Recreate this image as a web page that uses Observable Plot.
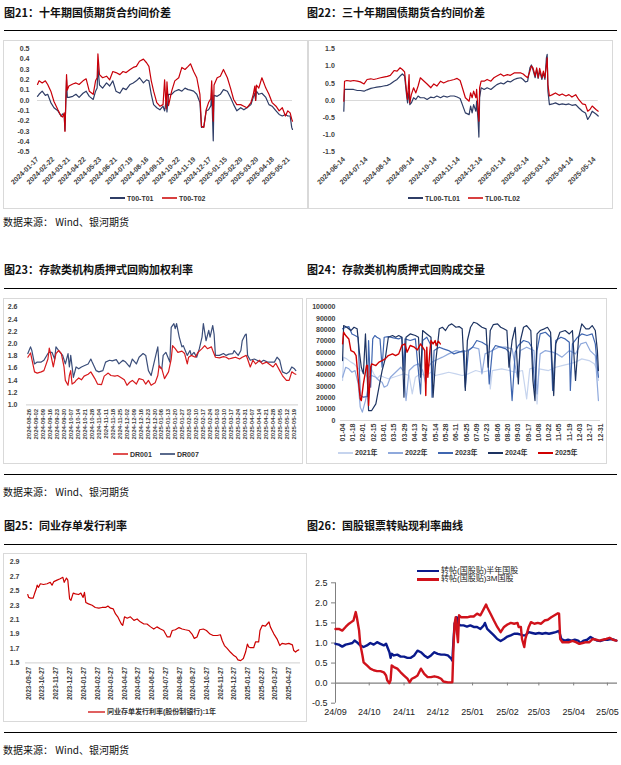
<!DOCTYPE html>
<html lang="zh">
<head>
<meta charset="utf-8">
<script src="https://cdn.jsdelivr.net/npm/d3@7"></script>
<script src="https://cdn.jsdelivr.net/npm/@observablehq/plot@0.6"></script>
<style>
html,body{margin:0;padding:0;background:#fff;}
#page{position:relative;width:621px;height:765px;overflow:hidden;background:#fff;}
.t{position:absolute;font-family:"Noto Sans CJK SC",sans-serif;font-weight:700;font-size:11px;line-height:13px;white-space:nowrap;color:#111;}
.hr{position:absolute;height:1.4px;background:#000;}
.box{position:absolute;border:1px solid #d9d9d9;box-sizing:border-box;}
.src{position:absolute;font-family:"Noto Sans CJK SC",sans-serif;font-size:10px;line-height:12px;color:#111;white-space:nowrap;}
.lg{position:absolute;white-space:nowrap;font-family:"Liberation Sans","Noto Sans CJK SC",sans-serif;font-size:7px;font-weight:700;color:#333;line-height:9px;}
.lg6{position:absolute;white-space:nowrap;font-family:"Liberation Sans","Noto Sans CJK SC",sans-serif;font-size:8px;color:#222;line-height:8px;height:8px;}
.sw{position:absolute;}
</style>
</head>
<body><div id="page"></div>
<script>
// ---------------- DATA ----------------
// Fig 21: T futures spreads (x = trading-day index)
const labels1 = ["2024-01-17","2024-02-22","2024-03-21","2024-04-22","2024-05-23","2024-06-21","2024-07-19","2024-08-16","2024-09-13","2024-10-22","2024-11-19","2024-12-17","2025-01-15","2025-02-20","2025-03-20","2025-04-18","2025-05-21"];
const days1 = [0,2,6,10,13,17,21,26,30,32,34,35,37,38,40,45,49,53,58,62,66,71,74,76,77,79,83,88,92,96,100,105,109,113,118,122,126,130,135,139,142,145,148,152,156,160,162,164,165,167,171,175,180,184,188,192,195,199,203,207,209,212,215,218,221,222,224,225,229,233,237,242,246,250,254,259,263,267,272,275,277,278,279,282,286,291,295,299,304,308,312,316,319,322,324,325];
const t00t01 = [0.04,0.06,0.09,0.05,0.06,-0.02,-0.07,-0.10,-0.15,-0.13,-0.14,-0.29,0.20,0.03,0.03,0.04,0.06,0.03,0.07,0.09,0.04,0.01,0.09,0.12,0.33,0.15,0.12,0.17,0.14,0.19,0.09,0.07,0.12,0.105,0.155,0.17,0.19,0.22,0.17,0.20,0.19,0.06,-0.04,-0.07,-0.09,-0.055,-0.10,0.0,-0.11,0.06,0.06,0.09,0.105,0.09,0.12,0.105,0.10,0.09,0.06,-0.02,-0.26,-0.25,-0.10,-0.09,-0.05,0.10,-0.39,0.05,0.04,0.06,0.105,0.09,0.03,-0.04,-0.10,-0.07,-0.09,-0.07,-0.04,0.03,0.07,0.0,0.09,0.06,0.07,0.03,-0.04,-0.055,-0.10,-0.135,-0.15,-0.135,-0.15,-0.15,-0.26,-0.28];
const t00t02 = [0.155,0.19,0.17,0.19,0.155,0.09,-0.01,-0.09,-0.15,-0.16,-0.12,-0.30,0.25,0.10,0.14,0.16,0.17,0.155,0.19,0.21,0.09,0.06,0.19,0.22,0.45,0.25,0.22,0.235,0.20,0.28,0.27,0.25,0.28,0.27,0.30,0.32,0.33,0.38,0.40,0.365,0.33,0.19,0.09,-0.02,-0.055,-0.04,0.20,-0.08,0.18,-0.05,0.09,0.19,0.22,0.32,0.30,0.33,0.355,0.28,0.22,0.06,-0.25,-0.26,-0.09,-0.02,0.02,0.19,-0.20,0.15,0.22,0.235,0.30,0.22,0.12,0.01,-0.04,-0.04,-0.055,-0.07,-0.02,0.06,0.14,0.0,0.15,0.12,0.22,0.12,0.06,-0.02,-0.055,-0.10,-0.07,-0.15,-0.10,-0.12,-0.18,-0.20];

// Fig 22: TL futures spreads
const labels2 = ["2024-06-14","2024-07-14","2024-08-14","2024-09-14","2024-10-14","2024-11-14","2024-12-14","2025-01-14","2025-02-14","2025-03-14","2025-04-14","2025-05-14"];
const dates2 = ["2024-06-14","2024-06-15","2024-06-18","2024-06-23","2024-06-27","2024-07-02","2024-07-06","2024-07-11","2024-07-15","2024-07-20","2024-07-24","2024-07-28","2024-08-02","2024-08-06","2024-08-11","2024-08-15","2024-08-20","2024-08-24","2024-08-28","2024-08-31","2024-09-03","2024-09-06","2024-09-07","2024-09-09","2024-09-10","2024-09-12","2024-09-15","2024-09-18","2024-09-21","2024-09-24","2024-09-29","2024-10-03","2024-10-08","2024-10-12","2024-10-16","2024-10-21","2024-10-25","2024-10-30","2024-11-03","2024-11-08","2024-11-12","2024-11-16","2024-11-19","2024-11-23","2024-11-28","2024-11-30","2024-12-02","2024-12-04","2024-12-07","2024-12-08","2024-12-10","2024-12-11","2024-12-12","2024-12-14","2024-12-18","2024-12-22","2024-12-27","2024-12-31","2025-01-04","2025-01-09","2025-01-13","2025-01-18","2025-01-22","2025-01-27","2025-01-31","2025-02-05","2025-02-08","2025-02-11","2025-02-14","2025-02-17","2025-02-19","2025-02-21","2025-02-24","2025-02-26","2025-02-28","2025-03-02","2025-03-05","2025-03-07","2025-03-09","2025-03-11","2025-03-12","2025-03-13","2025-03-15","2025-03-19","2025-03-23","2025-03-28","2025-04-01","2025-04-06","2025-04-10","2025-04-14","2025-04-19","2025-04-23","2025-04-28","2025-05-02","2025-05-05","2025-05-08","2025-05-11","2025-05-16","2025-05-19"];
const tl00tl01 = [-0.31,0.32,0.32,0.32,0.32,0.29,0.29,0.27,0.31,0.35,0.37,0.39,0.40,0.42,0.44,0.48,0.56,0.61,0.71,0.77,0.71,0.08,-0.07,0.27,-0.12,-0.07,0.08,0.03,0.13,0.08,0.08,0.03,0.10,0.08,0.13,0.08,0.13,0.10,0.13,0.13,0.10,0.06,-0.12,-0.36,-0.41,-0.16,-0.36,-0.12,-0.31,-0.02,-0.60,-1.06,0.08,0.37,0.32,0.37,0.32,0.39,0.46,0.51,0.48,0.56,0.54,0.61,0.64,0.66,0.61,0.54,0.56,0.95,1.03,0.90,0.66,0.90,0.64,0.85,0.61,0.80,0.61,1.24,1.34,0.27,-0.12,-0.10,-0.07,-0.12,-0.10,-0.12,-0.10,-0.14,-0.12,-0.21,-0.31,-0.36,-0.55,-0.45,-0.31,-0.39,-0.45];
const tl00tl02 = [-0.02,0.56,0.58,0.56,0.58,0.56,0.54,0.48,0.61,0.63,0.61,0.63,0.66,0.68,0.70,0.73,0.87,0.85,0.95,0.90,0.83,0.17,0.03,0.75,-0.07,0.17,0.37,0.22,0.42,0.66,0.56,0.48,0.37,0.48,0.42,0.56,0.51,0.56,0.58,0.61,0.64,0.58,0.37,0.08,-0.02,0.22,0.08,0.27,0.08,0.32,-0.31,-0.60,0.37,0.56,0.56,0.61,0.56,0.66,0.71,0.77,0.71,0.75,0.73,0.80,0.80,0.80,0.77,0.71,0.66,0.85,1.00,0.95,0.71,0.95,0.66,0.93,0.66,0.85,0.66,1.04,1.24,0.46,0.13,0.17,0.22,0.15,0.19,0.13,0.17,0.10,0.17,0.03,-0.10,-0.12,-0.31,-0.26,-0.16,-0.26,-0.31];

// Fig 23: DR001 / DR007 (x = trading-day index)
const labels3 = ["2024-08-26","2024-09-02","2024-09-09","2024-09-16","2024-09-23","2024-09-30","2024-10-07","2024-10-14","2024-10-21","2024-10-28","2024-11-04","2024-11-11","2024-11-18","2024-11-25","2024-12-02","2024-12-09","2024-12-16","2024-12-23","2024-12-30","2025-01-06","2025-01-13","2025-01-20","2025-01-27","2025-02-03","2025-02-10","2025-02-17","2025-02-24","2025-03-03","2025-03-10","2025-03-17","2025-03-24","2025-03-31","2025-04-07","2025-04-14","2025-04-21","2025-04-28","2025-05-05","2025-05-12","2025-05-19"];
const dr001 = [[0,1.78],[2,1.85],[3,1.75],[5,1.54],[7,1.52],[10,1.54],[12,1.56],[15,1.75],[16,1.93],[17,1.84],[19,1.62],[21,1.84],[23,1.89],[25,1.84],[27,1.62],[28,1.40],[30,1.32],[31,1.48],[32,1.56],[33,1.34],[35,1.37],[36,1.40],[38,1.44],[40,1.41],[42,1.47],[45,1.50],[47,1.54],[50,1.43],[52,1.34],[55,1.33],[57,1.47],[60,1.52],[62,1.48],[65,1.47],[67,1.48],[70,1.44],[72,1.41],[74,1.32],[76,1.37],[78,1.40],[81,1.34],[83,1.43],[86,1.41],[88,1.34],[90,1.40],[92,1.32],[95,1.36],[97,1.48],[98,1.64],[100,1.59],[102,1.43],[105,1.54],[107,1.75],[108,1.97],[110,1.92],[112,1.86],[115,1.88],[117,1.84],[119,1.67],[120,1.78],[122,1.81],[125,1.78],[127,1.86],[130,1.92],[132,1.97],[134,1.92],[137,1.95],[138,1.89],[140,1.78],[143,1.77],[146,1.79],[148,1.78],[150,1.75],[153,1.77],[155,1.78],[158,1.75],[160,1.78],[163,1.81],[164,1.75],[166,1.62],[168,1.73],[170,1.67],[173,1.73],[175,1.67],[178,1.70],[180,1.67],[183,1.62],[185,1.68],[188,1.56],[190,1.48],[193,1.40],[195,1.40],[197,1.54],[199,1.51],[200,1.50]];
const dr007 = [[0,1.84],[2,1.95],[3,1.89],[5,1.67],[7,1.70],[10,1.70],[12,1.73],[15,1.84],[16,1.86],[18,1.86],[20,1.75],[21,1.95],[23,1.89],[26,1.81],[28,1.67],[30,1.84],[31,1.62],[32,1.81],[34,1.45],[36,1.62],[38,1.59],[40,1.62],[42,1.64],[45,1.67],[47,1.75],[48,1.70],[51,1.56],[53,1.54],[56,1.56],[58,1.70],[61,1.73],[63,1.72],[66,1.74],[68,1.67],[71,1.73],[73,1.70],[76,1.62],[78,1.75],[81,1.67],[83,1.78],[86,1.84],[88,1.81],[90,1.56],[92,1.48],[94,1.67],[96,1.86],[97,1.95],[98,1.62],[100,1.59],[101,1.81],[103,1.86],[106,1.70],[107,2.27],[109,2.33],[110,2.25],[111,2.33],[113,2.11],[115,1.95],[116,1.97],[118,1.86],[119,1.81],[121,1.89],[122,1.81],[124,1.86],[126,1.78],[128,1.92],[130,2.11],[131,2.33],[133,2.05],[135,2.22],[136,2.11],[138,2.30],[139,2.16],[140,1.81],[143,1.81],[146,1.84],[148,1.81],[150,1.83],[153,1.84],[154,1.89],[157,1.81],[159,1.89],[160,2.05],[162,2.14],[163,2.16],[164,1.81],[166,1.73],[169,1.75],[171,1.73],[174,1.70],[176,1.73],[179,1.70],[181,1.70],[184,1.70],[186,1.78],[188,1.73],[190,1.54],[193,1.51],[195,1.54],[197,1.62],[199,1.59],[200,1.56]];

// Fig 24: pledged repo volume by year (x = trading-day index in year)
const labels4 = ["01-04","01-18","02-01","02-15","03-01","03-15","03-29","04-13","04-27","05-14","05-28","06-11","06-25","07-09","07-23","08-06","08-20","09-03","09-17","10-08","10-22","11-05","11-19","12-03","12-17","12-31"];
const vol2021 = [[2,35300],[3,55900],[6,54400],[10,51500],[13,50000],[16,47000],[19,44100],[22,42600],[26,38200],[29,47000],[32,41200],[35,36800],[38,39700],[42,38200],[46,36800],[51,38200],[56,39700],[61,41200],[66,39700],[69,23500],[72,38200],[77,41200],[82,39700],[87,42600],[91,39700],[98,41200],[104,42600],[111,41200],[117,39700],[123,41200],[130,44100],[136,42600],[143,44100],[144,27900],[146,44100],[155,45600],[162,44100],[168,42600],[175,44100],[179,19100],[182,45600],[187,47000],[189,14700],[191,45600],[200,44100],[207,47000],[213,48500],[220,50000],[226,51500],[232,54400],[239,52900],[244,50000],[247,44100],[248,35300]];
const vol2022 = [[2,38200],[5,47000],[8,45600],[11,42600],[14,44100],[17,32300],[19,11800],[21,7400],[24,17600],[26,26500],[27,38200],[30,39700],[34,38200],[37,35300],[40,33800],[42,29400],[45,30900],[48,38200],[53,42600],[58,47000],[61,42600],[63,17600],[66,44100],[71,48500],[75,50000],[79,44100],[82,32300],[84,47000],[88,51500],[91,52900],[98,55900],[104,58800],[111,61700],[117,60300],[122,61700],[127,64700],[133,63200],[136,41200],[139,58800],[146,61700],[152,64700],[159,64700],[165,63200],[170,38200],[173,61700],[179,64700],[186,61700],[189,23500],[192,58800],[197,61700],[204,60300],[208,58800],[213,55900],[220,61700],[226,58800],[231,67600],[236,69100],[240,61700],[245,57300],[248,17600]];
const vol2023 = [[2,80900],[5,82300],[8,82900],[11,76400],[14,75000],[17,73500],[19,22000],[22,20600],[26,21200],[27,70600],[29,29400],[31,72000],[33,75000],[35,73500],[38,72000],[40,47000],[42,73500],[46,74100],[51,72900],[56,72000],[59,73500],[61,44100],[62,72000],[67,70600],[72,72000],[77,23500],[79,70600],[83,73500],[87,66200],[88,20600],[90,61700],[95,64700],[99,63200],[104,61700],[109,58800],[114,60300],[119,61700],[120,29400],[123,61700],[127,64700],[131,70600],[136,69100],[141,66200],[143,32300],[146,61700],[149,66200],[154,64700],[159,63200],[162,60300],[165,17600],[168,60300],[171,66200],[176,70600],[181,69100],[184,64700],[187,26500],[189,61700],[192,76400],[197,77900],[202,73500],[204,26500],[207,70600],[212,73500],[216,72000],[220,69100],[221,26500],[223,67600],[228,73500],[232,76400],[237,75000],[242,76400],[245,67600],[247,47000],[248,38200]];
const vol2024 = [[2,52900],[3,83800],[6,82300],[10,79400],[13,82300],[16,80900],[18,61700],[20,47000],[22,41200],[24,76400],[26,32300],[27,8800],[30,8800],[34,14700],[37,29400],[40,44100],[43,54400],[46,73500],[50,75000],[53,73500],[56,75000],[59,73500],[61,20600],[63,73500],[67,76400],[72,75000],[75,73500],[77,38200],[79,79400],[83,76400],[87,73500],[89,20600],[91,47000],[95,80900],[98,82300],[101,79400],[104,83800],[107,85300],[111,82300],[114,82900],[117,80900],[120,26500],[122,70600],[125,82300],[128,86700],[131,85800],[136,82300],[140,80900],[142,47000],[144,79400],[147,84700],[151,85300],[154,82300],[157,80900],[160,79400],[162,47000],[165,70600],[168,82300],[171,32300],[173,70600],[176,82300],[179,83800],[183,79400],[185,35300],[187,17600],[189,76400],[192,79400],[196,80900],[199,82300],[202,77900],[205,22000],[207,67600],[211,77900],[216,79400],[220,76400],[223,79400],[226,35300],[229,73500],[232,85300],[236,80900],[239,80900],[242,83800],[245,79400],[247,61700],[248,44100]];
const vol2025 = [[2,67600],[3,77900],[5,75000],[8,72000],[10,61700],[13,60300],[15,57300],[17,36800],[19,19100],[20,17600],[22,32300],[25,48500],[26,48500],[27,13200],[29,47000],[30,50000],[34,48500],[37,51500],[40,52900],[43,54400],[46,57300],[50,58800],[53,57300],[56,58800],[59,66200],[62,67600],[64,60300],[67,66200],[71,64700],[74,62300],[77,67600],[79,64700],[81,61700],[82,22000],[83,64700],[84,38200],[86,61700],[87,70600],[89,67600],[91,70600],[92,66200],[94,70000],[96,67600]];

// Fig 25: NCD issuance rate (joint-stock banks, 1Y)
const labels5 = ["2023-09-27","2023-10-27","2023-11-27","2023-12-27","2024-01-27","2024-02-27","2024-03-27","2024-04-27","2024-05-27","2024-06-27","2024-07-27","2024-08-27","2024-09-27","2024-10-27","2024-11-27","2024-12-27","2025-01-27","2025-02-27","2025-03-27","2025-04-27"];
const ncd = [["2023-09-25",2.45],["2023-09-27",2.41],["2023-10-01",2.40],["2023-10-07",2.40],["2023-10-10",2.46],["2023-10-14",2.53],["2023-10-16",2.58],["2023-10-19",2.55],["2023-10-23",2.60],["2023-10-30",2.59],["2023-11-07",2.60],["2023-11-14",2.62],["2023-11-18",2.58],["2023-11-22",2.63],["2023-11-29",2.65],["2023-12-06",2.67],["2023-12-12",2.69],["2023-12-15",2.62],["2023-12-20",2.68],["2023-12-23",2.65],["2023-12-27",2.39],["2023-12-30",2.37],["2024-01-04",2.47],["2024-01-09",2.46],["2024-01-16",2.45],["2024-01-21",2.47],["2024-01-26",2.41],["2024-01-29",2.48],["2024-02-01",2.34],["2024-02-07",2.32],["2024-02-15",2.30],["2024-02-22",2.27],["2024-03-01",2.26],["2024-03-08",2.27],["2024-03-16",2.27],["2024-03-21",2.29],["2024-03-27",2.26],["2024-04-02",2.25],["2024-04-07",2.18],["2024-04-12",2.14],["2024-04-16",2.09],["2024-04-20",2.04],["2024-04-23",2.02],["2024-04-27",2.14],["2024-05-03",2.12],["2024-05-10",2.14],["2024-05-18",2.09],["2024-05-25",2.11],["2024-06-01",2.07],["2024-06-09",2.04],["2024-06-16",2.04],["2024-06-24",2.00],["2024-07-01",1.97],["2024-07-08",2.00],["2024-07-16",1.97],["2024-07-23",1.95],["2024-07-31",1.86],["2024-08-06",1.86],["2024-08-11",1.95],["2024-08-18",1.96],["2024-08-26",1.99],["2024-09-02",1.97],["2024-09-09",1.96],["2024-09-17",1.95],["2024-09-24",1.90],["2024-09-29",1.84],["2024-10-05",1.86],["2024-10-11",1.96],["2024-10-19",1.97],["2024-10-26",1.95],["2024-11-03",1.90],["2024-11-10",1.88],["2024-11-19",1.88],["2024-11-26",1.89],["2024-11-30",1.81],["2024-12-05",1.74],["2024-12-11",1.70],["2024-12-18",1.65],["2024-12-26",1.60],["2024-12-31",1.58],["2025-01-04",1.54],["2025-01-10",1.53],["2025-01-16",1.56],["2025-01-21",1.65],["2025-01-25",1.76],["2025-01-28",1.72],["2025-02-01",1.71],["2025-02-08",1.71],["2025-02-12",1.79],["2025-02-19",1.79],["2025-02-22",1.95],["2025-02-27",2.02],["2025-03-06",2.01],["2025-03-10",2.04],["2025-03-14",2.07],["2025-03-17",2.00],["2025-03-21",1.95],["2025-03-25",1.90],["2025-04-01",1.83],["2025-04-07",1.74],["2025-04-12",1.77],["2025-04-20",1.76],["2025-04-27",1.77],["2025-05-05",1.75],["2025-05-08",1.67],["2025-05-12",1.65],["2025-05-16",1.67],["2025-05-19",1.68]];

// Fig 26: rediscount rates
const labels6 = ["2024-09-01","2024-10-01","2024-11-01","2024-12-01","2025-01-01","2025-02-01","2025-03-01","2025-04-01","2025-05-01"];
const disc6m = [["2024-09-01",0.98],["2024-09-04",0.96],["2024-09-07",0.91],["2024-09-10",0.96],["2024-09-13",0.98],["2024-09-16",1.00],["2024-09-18",1.06],["2024-09-20",1.02],["2024-09-23",0.94],["2024-09-26",0.90],["2024-09-29",0.94],["2024-10-02",1.00],["2024-10-05",0.96],["2024-10-08",1.02],["2024-10-11",0.98],["2024-10-14",0.94],["2024-10-16",0.98],["2024-10-19",0.77],["2024-10-20",0.63],["2024-10-21",0.73],["2024-10-23",0.69],["2024-10-26",0.71],["2024-10-29",0.66],["2024-11-01",0.66],["2024-11-04",0.63],["2024-11-07",0.63],["2024-11-10",0.69],["2024-11-13",0.81],["2024-11-16",0.77],["2024-11-19",0.69],["2024-11-22",0.63],["2024-11-25",0.69],["2024-11-28",0.77],["2024-12-01",0.73],["2024-12-04",0.71],["2024-12-07",0.71],["2024-12-10",0.69],["2024-12-13",0.61],["2024-12-14",0.56],["2024-12-15",1.06],["2024-12-16",1.48],["2024-12-18",1.64],["2024-12-19",1.48],["2024-12-21",1.44],["2024-12-24",1.44],["2024-12-27",1.41],["2024-12-30",1.44],["2025-01-02",1.40],["2025-01-05",1.40],["2025-01-08",1.35],["2025-01-11",1.44],["2025-01-12",1.50],["2025-01-14",1.35],["2025-01-17",1.27],["2025-01-20",1.19],["2025-01-23",1.10],["2025-01-26",1.05],["2025-01-29",1.10],["2025-02-01",1.16],["2025-02-04",1.19],["2025-02-07",1.23],["2025-02-10",1.23],["2025-02-13",1.21],["2025-02-15",1.19],["2025-02-17",1.19],["2025-02-20",1.27],["2025-02-23",1.25],["2025-02-26",1.23],["2025-03-01",1.25],["2025-03-04",1.23],["2025-03-07",1.25],["2025-03-10",1.23],["2025-03-13",1.25],["2025-03-16",1.27],["2025-03-19",1.30],["2025-03-21",1.10],["2025-03-24",1.06],["2025-03-27",1.08],["2025-03-30",1.06],["2025-04-02",1.08],["2025-04-05",1.06],["2025-04-07",1.00],["2025-04-10",1.06],["2025-04-13",1.08],["2025-04-16",1.15],["2025-04-19",1.10],["2025-04-22",1.06],["2025-04-25",1.05],["2025-04-28",1.08],["2025-05-01",1.08],["2025-05-04",1.10],["2025-05-07",1.08],["2025-05-09",1.06]];
const disc3m = [["2024-09-01",1.35],["2024-09-04",1.35],["2024-09-07",1.31],["2024-09-10",1.40],["2024-09-13",1.48],["2024-09-15",1.52],["2024-09-17",1.56],["2024-09-19",1.77],["2024-09-20",1.64],["2024-09-22",1.31],["2024-09-23",0.98],["2024-09-25",0.69],["2024-09-26",0.52],["2024-09-29",0.44],["2024-10-02",0.36],["2024-10-05",0.32],["2024-10-08",0.30],["2024-10-11",0.30],["2024-10-14",0.27],["2024-10-16",0.19],["2024-10-17",0.07],["2024-10-19",0.00],["2024-10-20",0.07],["2024-10-21",0.44],["2024-10-23",0.40],["2024-10-26",0.36],["2024-10-29",0.27],["2024-11-01",0.19],["2024-11-04",0.11],["2024-11-06",0.02],["2024-11-08",0.11],["2024-11-11",0.15],["2024-11-13",0.19],["2024-11-16",0.36],["2024-11-19",0.23],["2024-11-22",0.15],["2024-11-25",0.15],["2024-11-28",0.17],["2024-12-01",0.15],["2024-12-04",0.11],["2024-12-06",0.04],["2024-12-10",0.02],["2024-12-13",0.02],["2024-12-14",0.02],["2024-12-15",0.90],["2024-12-16",1.48],["2024-12-17",1.64],["2024-12-18",1.31],["2024-12-19",1.02],["2024-12-20",1.69],["2024-12-22",1.64],["2024-12-24",1.64],["2024-12-27",1.64],["2024-12-30",1.66],["2025-01-02",1.66],["2025-01-05",1.73],["2025-01-08",1.69],["2025-01-11",1.85],["2025-01-13",1.96],["2025-01-14",1.89],["2025-01-17",1.73],["2025-01-20",1.56],["2025-01-23",1.40],["2025-01-26",1.27],["2025-01-29",1.40],["2025-02-01",1.46],["2025-02-04",1.50],["2025-02-07",1.48],["2025-02-10",1.50],["2025-02-11",1.40],["2025-02-13",1.40],["2025-02-14",1.10],["2025-02-16",0.90],["2025-02-17",1.10],["2025-02-20",1.40],["2025-02-22",1.52],["2025-02-25",1.48],["2025-02-28",1.50],["2025-03-03",1.48],["2025-03-06",1.56],["2025-03-09",1.58],["2025-03-12",1.64],["2025-03-15",1.69],["2025-03-18",1.74],["2025-03-19",1.73],["2025-03-20",1.10],["2025-03-22",1.02],["2025-03-25",1.02],["2025-03-28",1.02],["2025-03-31",1.05],["2025-04-03",1.02],["2025-04-06",0.98],["2025-04-09",1.00],["2025-04-12",1.02],["2025-04-15",1.02],["2025-04-18",1.10],["2025-04-21",1.08],["2025-04-24",1.06],["2025-04-27",1.08],["2025-04-30",1.10],["2025-05-03",1.13],["2025-05-06",1.08],["2025-05-09",1.06]];

// ---------------- LAYOUT HELPERS ----------------
const page = document.getElementById("page");
function add(cls, css, text){ const e=document.createElement("div"); e.className=cls; Object.assign(e.style, css); if(text!=null) e.textContent=text; page.appendChild(e); return e; }
function place(svg, left, top){ svg.style.position="absolute"; svg.style.left=left+"px"; svg.style.top=top+"px"; svg.style.background="none"; page.appendChild(svg); }
function legendItem(x, y, w, h, color, text, cls){
  add("sw", {left:x+"px", top:(y-h/2)+"px", width:w+"px", height:h+"px", background:color});
  const e = add(cls||"lg", {left:(x+w+2)+"px"}, text);
  e.style.top = (y - (cls==="lg6"?4:4.5)) + "px";
}
const P = d => new Date(d);
const fmt1 = d => d.toFixed(1);
const BLUE = "#2f3d66", RED = "#c8000a";
const axisFont = {fontFamily:'"Liberation Sans", Arial, sans-serif', fontSize:"7px", fontWeight:"bold", color:"#404040"};

// ---------------- STATIC TEXT / FRAMES ----------------
add("t",{left:"4px",top:"6px"},"图21：十年期国债期货合约间价差");
add("t",{left:"307px",top:"6px"},"图22：三十年期国债期货合约间价差");
add("hr",{left:"4px",top:"29.5px",width:"613px"});
add("box",{left:"3px",top:"40px",width:"305px",height:"169px"});
add("box",{left:"308px",top:"40px",width:"305px",height:"169px"});
add("src",{left:"3px",top:"216px"},"数据来源：  Wind、银河期货");

add("t",{left:"4px",top:"263px"},"图23：存款类机构质押式回购加权利率");
add("t",{left:"307px",top:"263px"},"图24：存款类机构质押式回购成交量");
add("hr",{left:"4px",top:"287.5px",width:"613px"});
add("box",{left:"3px",top:"298px",width:"300px",height:"166px"});
add("box",{left:"306px",top:"298px",width:"301px",height:"166px"});
add("hr",{left:"4px",top:"473.5px",width:"613px"});
add("src",{left:"3px",top:"486px"},"数据来源：  Wind、银河期货");

add("t",{left:"4px",top:"518.5px"},"图25：同业存单发行利率");
add("t",{left:"307px",top:"518.5px"},"图26：国股银票转贴现利率曲线");
add("hr",{left:"4px",top:"543.5px",width:"613px"});
add("box",{left:"3px",top:"553px",width:"304px",height:"169px"});
add("hr",{left:"4px",top:"731.5px",width:"613px"});
add("src",{left:"3px",top:"744px"},"数据来源：  Wind、银河期货");

// ---------------- FIG 21 ----------------
{
  const tickPos = labels1.map((_,k)=>20*k);
  const lab = new Map(tickPos.map((p,k)=>[p,labels1[k]]));
  const s1 = days1.map((d,i)=>({x:d, y:t00t01[i]}));
  const s2 = days1.map((d,i)=>({x:d, y:t00t02[i]}));
  const svg = Plot.plot({
    width:302, height:167, marginTop:7.3, marginBottom:56.3, marginLeft:33, marginRight:14,
    style:axisFont,
    x:{domain:[0,325], ticks:tickPos, tickFormat:d=>lab.get(d), tickRotate:-45, tickSize:0, tickPadding:6, label:null},
    y:{domain:[-0.5,0.5], ticks:d3.range(-5,6).map(v=>v/10), tickFormat:fmt1, tickSize:0, tickPadding:8, label:null},
    marks:[
      Plot.ruleY([0],{stroke:"#d9d9d9", strokeWidth:1.2}),
      Plot.line(s1,{x:"x",y:"y",stroke:BLUE,strokeWidth:1.2}),
      Plot.line(s2,{x:"x",y:"y",stroke:RED,strokeWidth:1.2})
    ]
  });
  place(svg,4,41);
  legendItem(110,198,15,2,BLUE,"T00-T01");
  legendItem(162,198,15,2,"#d84040","T00-T02");
}
// ---------------- FIG 22 ----------------
{
  const s1 = dates2.map((d,i)=>({x:P(d), y:tl00tl01[i]}));
  const s2 = dates2.map((d,i)=>({x:P(d), y:tl00tl02[i]}));
  const svg = Plot.plot({
    width:303, height:167, marginTop:7.3, marginBottom:56.3, marginLeft:34.3, marginRight:14.3,
    style:axisFont,
    x:{type:"utc", domain:[P("2024-06-14"),P("2025-05-19")], ticks:labels2.map(P), tickFormat:d3.utcFormat("%Y-%m-%d"), tickRotate:-45, tickSize:0, tickPadding:6, label:null},
    y:{domain:[-1.5,1.5], ticks:d3.range(-3,4).map(v=>v/2), tickFormat:fmt1, tickSize:0, tickPadding:9, label:null},
    marks:[
      Plot.ruleY([0],{stroke:"#d9d9d9", strokeWidth:1.2}),
      Plot.line(s1,{x:"x",y:"y",stroke:BLUE,strokeWidth:1.2}),
      Plot.line(s2,{x:"x",y:"y",stroke:RED,strokeWidth:1.2})
    ]
  });
  place(svg,309,41);
  legendItem(408,198,15,2,BLUE,"TL00-TL01");
  legendItem(468,198,15,2,"#d84040","TL00-TL02");
}
// ---------------- FIG 23 ----------------
{
  const tickPos = labels3.map((_,k)=>1+5.2*k);
  const lab = new Map(tickPos.map((p,k)=>[p,labels3[k]]));
  const svg = Plot.plot({
    width:298, height:165, marginTop:7.7, marginBottom:59.7, marginLeft:22, marginRight:4,
    style:{...axisFont},
    x:{domain:[-1,202], ticks:tickPos, tickFormat:d=>lab.get(d), tickRotate:-90, tickSize:0, tickPadding:4, label:null},
    y:{domain:[1.0,2.6], ticks:d3.range(5,14).map(v=>v/5), tickFormat:fmt1, tickSize:0, tickPadding:9, label:null},
    marks:[
      Plot.ruleY([1.0],{stroke:"#d9d9d9", strokeWidth:1.2}),
      Plot.line(dr007,{x:d=>d[0],y:d=>d[1],stroke:"#3b4e7a",strokeWidth:1.2}),
      Plot.line(dr001,{x:d=>d[0],y:d=>d[1],stroke:"#d7191c",strokeWidth:1.2})
    ]
  });
  svg.querySelectorAll('[aria-label="x-axis tick label"] text').forEach(t=>t.style.fontSize="6px");
  place(svg,4,299);
  legendItem(113,454,15,2,"#e05050","DR001");
  legendItem(160,454,15,2,"#5a6a8c","DR007");
}
// ---------------- FIG 24 ----------------
{
  const tickPos = labels4.map((_,k)=>2+9.92*k);
  const lab = new Map(tickPos.map((p,k)=>[p,labels4[k]]));
  const C = {"2021":"#c6d4ee","2022":"#8fa9dc","2023":"#3f66b0","2024":"#1d3361","2025":"#d00000"};
  const svg = Plot.plot({
    width:299, height:164, marginTop:7.7, marginBottom:43, marginLeft:33, marginRight:6,
    style:axisFont,
    x:{domain:[0,250], ticks:tickPos, tickFormat:d=>lab.get(d), tickRotate:-90, tickSize:0, tickPadding:3, label:null},
    y:{domain:[0,100000], ticks:d3.range(0,110000,10000), tickFormat:d=>String(d), tickSize:0, tickPadding:5, label:null},
    marks:[
      Plot.ruleY([0],{stroke:"#d9d9d9", strokeWidth:1.2}),
      Plot.line(vol2021,{x:d=>d[0],y:d=>d[1],stroke:C["2021"],strokeWidth:1.2}),
      Plot.line(vol2022,{x:d=>d[0],y:d=>d[1],stroke:C["2022"],strokeWidth:1.2}),
      Plot.line(vol2023,{x:d=>d[0],y:d=>d[1],stroke:C["2023"],strokeWidth:1.2}),
      Plot.line(vol2024,{x:d=>d[0],y:d=>d[1],stroke:C["2024"],strokeWidth:1.2}),
      Plot.line(vol2025,{x:d=>d[0],y:d=>d[1],stroke:C["2025"],strokeWidth:1.4})
    ]
  });
  place(svg,307,299);
  const lx = [338,388,438,488,538];
  ["2021","2022","2023","2024","2025"].forEach((y,i)=>legendItem(lx[i],452.7,15,2,C[y],y+"年"));
}
// ---------------- FIG 25 ----------------
{
  const data = ncd.map(d=>({x:P(d[0]), y:d[1]}));
  const svg = Plot.plot({
    width:302, height:167, marginTop:7.7, marginBottom:58.7, marginLeft:21, marginRight:6,
    style:axisFont,
    x:{type:"utc", domain:[P("2023-09-20"),P("2025-05-23")], ticks:labels5.map(P), tickFormat:d3.utcFormat("%Y-%m-%d"), tickRotate:-90, tickSize:0, tickPadding:4, label:null},
    y:{domain:[1.5,2.9], ticks:d3.range(15,30,2).map(v=>v/10), tickFormat:fmt1, tickSize:0, tickPadding:6, label:null},
    marks:[
      Plot.ruleY([1.5],{stroke:"#d9d9d9", strokeWidth:1.2}),
      Plot.line(data,{x:"x",y:"y",stroke:"#cc0000",strokeWidth:1.2})
    ]
  });
  svg.querySelectorAll('[aria-label="x-axis tick label"] text').forEach(t=>t.style.fontSize="6.5px");
  place(svg,4,554);
  legendItem(88,711.7,17,2,"#e06060","同业存单发行利率(股份制银行):1年");
}
// ---------------- FIG 26 ----------------
{
  const a = disc6m.map(d=>({x:P(d[0]), y:d[1]}));
  const b = disc3m.map(d=>({x:P(d[0]), y:d[1]}));
  const start = P("2024-09-01");
  const months = labels6.map(P);
  const svg = Plot.plot({
    width:314, height:165, marginTop:22.3, marginBottom:22.3, marginLeft:28, marginRight:4,
    style:{fontFamily:'"Liberation Sans", Arial, sans-serif', fontSize:"9px", color:"#222"},
    x:{type:"utc", domain:[start,P("2025-05-10")], label:null},
    y:{domain:[-0.5,2.5], label:null},
    marks:[
      Plot.axisY({ticks:d3.range(-1,6).map(v=>v/2), tickFormat:fmt1, tickSize:4, tickPadding:4, stroke:"#808080"}),
      Plot.axisX({ticks:months, tickFormat:d3.utcFormat("%y/%m"), tickSize:0, tickPadding:5}),
      Plot.ruleX([start],{stroke:"#808080"}),
      Plot.ruleY([0],{stroke:"#808080", strokeWidth:1.2}),
      Plot.ruleX(months,{y1:0, y2:-0.07, stroke:"#808080"}),
      Plot.line(a,{x:"x",y:"y",stroke:"#0a1a8c",strokeWidth:2.4}),
      Plot.line(b,{x:"x",y:"y",stroke:"#d0121b",strokeWidth:2.4})
    ]
  });
  place(svg,307,560);
  legendItem(417,571,22,2.5,"#0a1a8c","转帖(国股贴)半年国股","lg6");
  legendItem(417,579.3,22,2.5,"#d0121b","转帖(国股贴)3M国股","lg6");
}
</script>
</body></html>
